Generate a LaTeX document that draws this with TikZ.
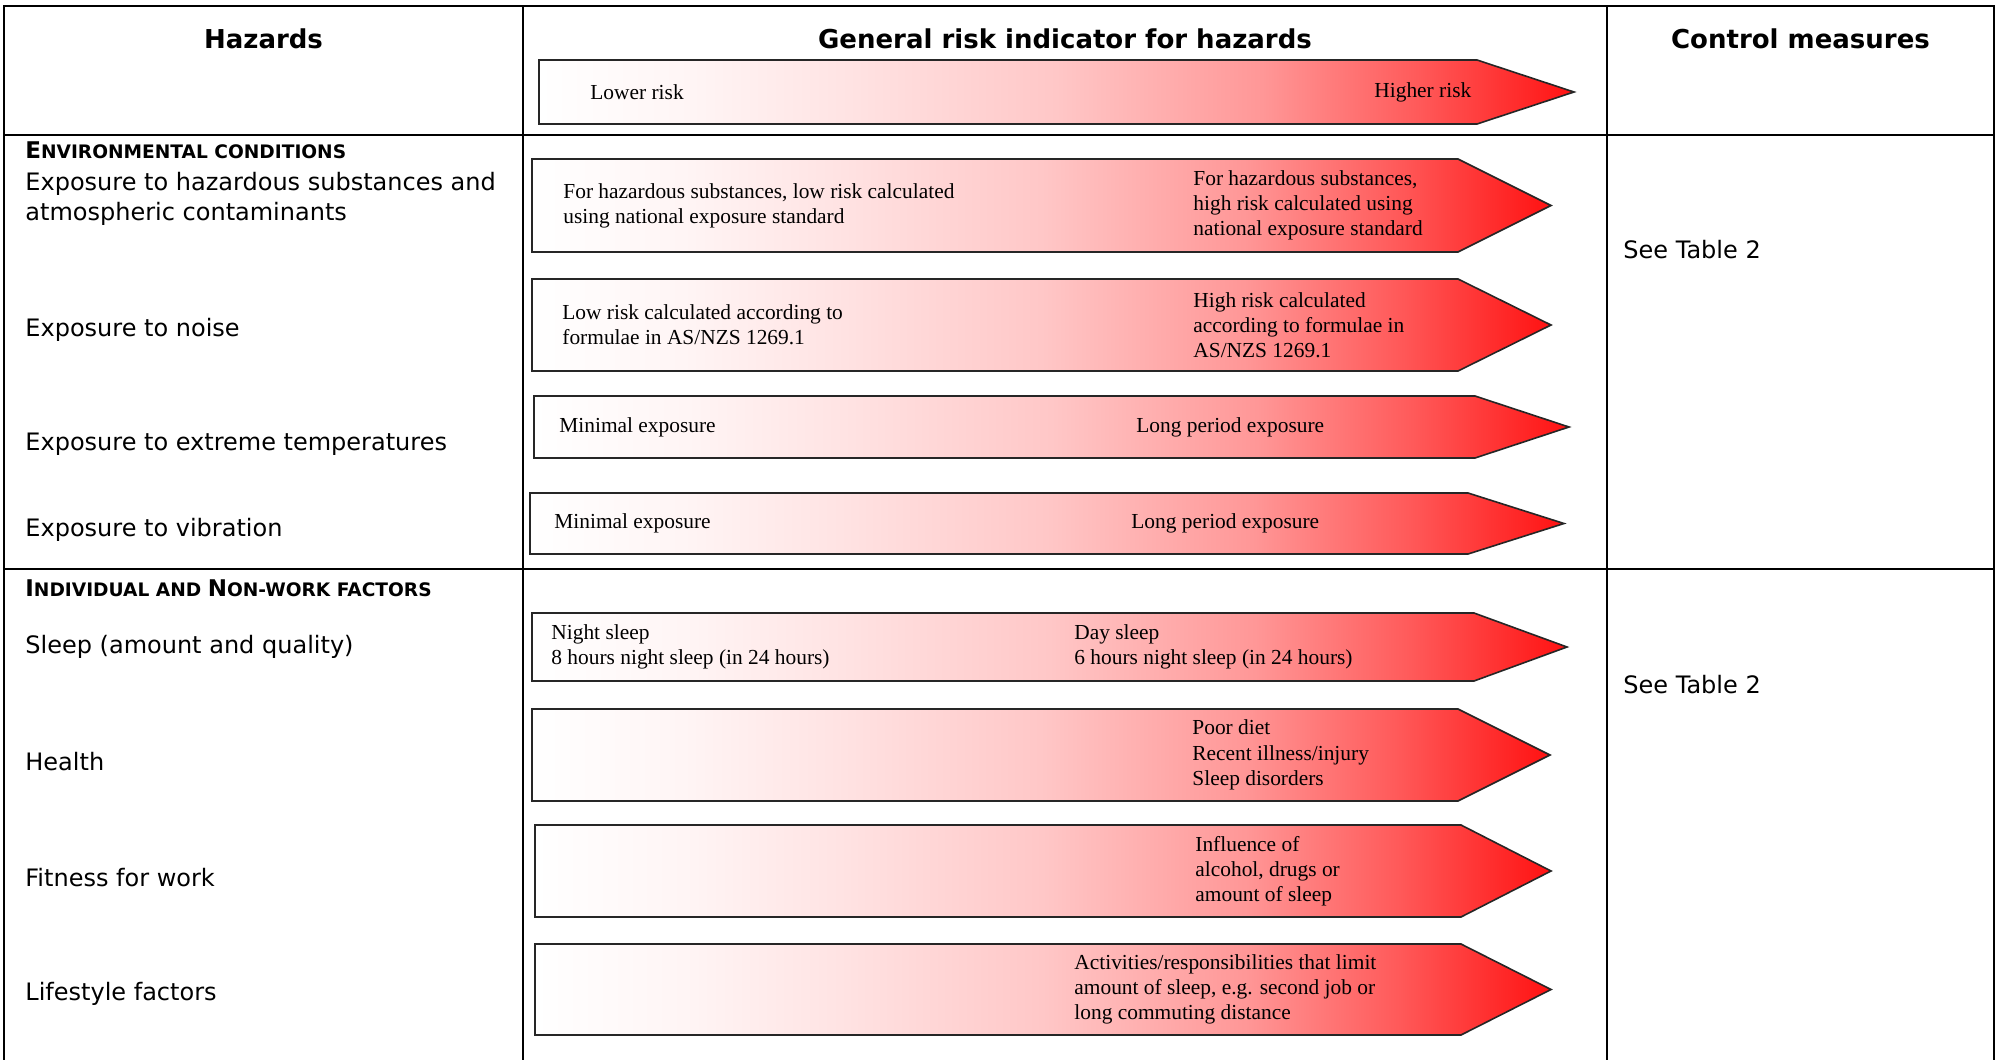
\documentclass[tikz,border=0pt]{standalone}
\usepackage{fontspec}
\setmainfont{Liberation Serif}
\setsansfont{DejaVu Sans}
\usepackage{tikz}

% shading of the risk arrows, white on the left and red at the tip
\pgfdeclarehorizontalshading{riskfade}{100bp}{color(0bp)=(white); color(25bp)=(white);
  color(32.5bp)=(red!4); color(40bp)=(red!11); color(50bp)=(red!22); color(60bp)=(red!41);
  color(67.5bp)=(red!65); color(75bp)=(red!93); color(100bp)=(red!93)}

\begin{document}
\begin{tikzpicture}[x=0.5pt, y=-0.5pt]

% Define styles for the table
\tikzstyle{rule}=[line width=1.4pt, black]
\tikzstyle{head}=[inner sep=0pt, font=\sffamily\bfseries\fontsize{13}{16}\selectfont]
\tikzstyle{hazard}=[anchor=west, inner sep=0pt, align=left, font=\sffamily\fontsize{12}{15}\selectfont]

% Define styles for the arrows and their texts
\tikzstyle{riskarrow}=[draw=black!85, line width=0.8pt, shade, shading=riskfade]
\tikzstyle{risk}=[anchor=west, inner sep=0pt, align=left, font=\fontsize{10.7}{12.6}\selectfont]

\useasboundingbox (0,0) rectangle (1997,1060);

% table rules
\draw[rule] (4,1060) -- (4,6) -- (1994,6) -- (1994,1060);
\draw[rule] (523,6) -- (523,1060);
\draw[rule] (1607,6) -- (1607,1060);
\draw[rule] (4,135) -- (1994,135);
\draw[rule] (4,569) -- (1994,569);

% headings
\node[head] (hazHead) at (263.5,39) {Hazards};
\node[head] (riskHead) at (1065,39) {General risk indicator for hazards};
\node[head] (ctrlHead) at (1800.5,39) {Control measures};

\path[riskarrow] (539,60) -- (1477,60) -- (1574,92) -- (1477,124) -- (539,124) -- cycle;
\node[risk] (lowHead) at (590,92) {Lower risk};
\node[risk] (highHead) at (1374,92) {Higher risk};

% environmental conditions
\node[hazard] (envTitle) at (25,150) {\bfseries\fontsize{11.5}{14}\selectfont E\fontsize{9.3}{14}\selectfont NVIRONMENTAL CONDITIONS};
\node[hazard] (hazSubst) at (25,199) {Exposure to hazardous substances and\\atmospheric contaminants};
\node[hazard] (hazNoise) at (25,330) {Exposure to noise};
\node[hazard] (hazTemp) at (25,444) {Exposure to extreme temperatures};
\node[hazard] (hazVib) at (25,530) {Exposure to vibration};
\node[hazard] (ctrlEnv) at (1623,250) {See Table 2};

\path[riskarrow] (532,159) -- (1458,159) -- (1551,205.5) -- (1458,252) -- (532,252) -- cycle;
\node[risk] (lowSubst) at (563,205.5) {For hazardous substances, low risk calculated\\using national exposure standard};
\node[risk] (highSubst) at (1193,205.5) {For hazardous substances,\\high risk calculated using\\national exposure standard};

\path[riskarrow] (532,279) -- (1458,279) -- (1551,325) -- (1458,371) -- (532,371) -- cycle;
\node[risk] (lowNoise) at (562,325) {Low risk calculated according to\\formulae in AS/NZS 1269.1};
\node[risk] (highNoise) at (1193,325) {High risk calculated\\according to formulae in\\AS/NZS 1269.1};

\path[riskarrow] (534,396) -- (1475,396) -- (1569,427) -- (1475,458) -- (534,458) -- cycle;
\node[risk] (lowTemp) at (559,427) {Minimal exposure};
\node[risk] (highTemp) at (1136,427) {Long period exposure};

\path[riskarrow] (530,493) -- (1468,493) -- (1564,523.5) -- (1468,554) -- (530,554) -- cycle;
\node[risk] (lowVib) at (554,523.5) {Minimal exposure};
\node[risk] (highVib) at (1131,523.5) {Long period exposure};

% individual and non-work factors
\node[hazard] (indTitle) at (25,588) {\bfseries\fontsize{11.5}{14}\selectfont I\fontsize{9.3}{14}\selectfont NDIVIDUAL AND \fontsize{11.5}{14}\selectfont N\fontsize{9.3}{14}\selectfont ON-WORK FACTORS};
\node[hazard] (hazSleep) at (25,647) {Sleep (amount and quality)};
\node[hazard] (hazHealth) at (25,762) {Health};
\node[hazard] (hazFit) at (25,878) {Fitness for work};
\node[hazard] (hazLife) at (25,994) {Lifestyle factors};
\node[hazard] (ctrlInd) at (1623,685) {See Table 2};

\path[riskarrow] (532,613) -- (1474,613) -- (1567,647) -- (1474,681) -- (532,681) -- cycle;
\node[risk] (lowSleep) at (551,647) {Night sleep\\8 hours night sleep (in 24 hours)};
\node[risk] (highSleep) at (1074,647) {Day sleep\\6 hours night sleep (in 24 hours)};

\path[riskarrow] (532,709) -- (1458,709) -- (1550,755) -- (1458,801) -- (532,801) -- cycle;
\node[risk] (highHealth) at (1192,755) {Poor diet\\Recent illness/injury\\Sleep disorders};

\path[riskarrow] (535,825) -- (1461,825) -- (1551,871) -- (1461,917) -- (535,917) -- cycle;
\node[risk] (highFit) at (1195,871) {Influence of\\alcohol, drugs or\\amount of sleep};

\path[riskarrow] (535,944) -- (1461,944) -- (1551,989.5) -- (1461,1035) -- (535,1035) -- cycle;
\node[risk] (highLife) at (1074,989.5) {Activities/responsibilities that limit\\amount of sleep, e.g. second job or\\long commuting distance};

\end{tikzpicture}
\end{document}
